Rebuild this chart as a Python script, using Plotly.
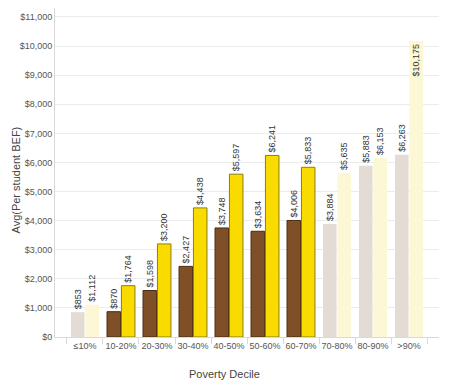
import plotly.graph_objects as go

categories = ["≤10%", "10-20%", "20-30%", "30-40%", "40-50%", "50-60%", "60-70%", "70-80%", "80-90%", ">90%"]
series_a = [853, 870, 1598, 2427, 3748, 3634, 4006, 3884, 5883, 6263]
series_b = [1112, 1764, 3200, 4438, 5597, 6241, 5833, 5635, 6153, 10175]
highlighted = [False, True, True, True, True, True, True, False, False, False]

a_colors = ["#7F4F28" if h else "#E3DCD4" for h in highlighted]
b_colors = ["#F9DB00" if h else "#FCF8D6" for h in highlighted]
a_line = ["#4A2C12" if h else "rgba(0,0,0,0)" for h in highlighted]
b_line = ["#8F7D10" if h else "rgba(0,0,0,0)" for h in highlighted]
lw = [1 if h else 0 for h in highlighted]

font = "Liberation Sans, Arial, sans-serif"
ymax = 11309

W, H = 450, 381
L, R, T, B = 47, 19, 0, 52
PW, PH = W - L - R, H - T - B

def positions(vals):
    return ["inside" if v > ymax * 0.86 else "outside" for v in vals]

fig = go.Figure()
fig.add_trace(go.Bar(
    x=categories, y=series_a, marker=dict(color=a_colors, line=dict(color=a_line, width=lw)),
    texttemplate="$%{y:,.0f}", textposition=positions(series_a), textangle=-90,
    constraintext="none",
    textfont=dict(size=9, color="#333333", family=font),
    insidetextfont=dict(size=9, color="#333333", family=font),
    cliponaxis=False, showlegend=False, hoverinfo="skip"))
fig.add_trace(go.Bar(
    x=categories, y=series_b, marker=dict(color=b_colors, line=dict(color=b_line, width=lw)),
    texttemplate="$%{y:,.0f}", textposition=positions(series_b), textangle=-90,
    insidetextanchor="end", constraintext="none",
    textfont=dict(size=9, color="#333333", family=font),
    insidetextfont=dict(size=9, color="#333333", family=font),
    cliponaxis=False, showlegend=False, hoverinfo="skip"))

fig.update_layout(
    width=W, height=H,
    margin=dict(l=L, r=R, t=T, b=B, autoexpand=False),
    paper_bgcolor="white", plot_bgcolor="white",
    barmode="group", bargap=0.2, bargroupgap=0.06,
    uniformtext=dict(minsize=9, mode="show"),
    font=dict(family=font, size=9, color="#555555"),
    xaxis=dict(
        range=[-0.833, 9.833], showgrid=False, showline=True, linecolor="#D9D9D9", linewidth=1,
        ticks="outside", tickson="boundaries", ticklen=6, tickcolor="#D9D9D9", tickangle=0,
        tickfont=dict(size=9, color="#555555"), fixedrange=True),
    yaxis=dict(
        range=[0, ymax], dtick=1000, tickprefix="$", tickformat=",.0f",
        showgrid=True, gridcolor="#EBEBEB", gridwidth=1,
        showline=True, linecolor="#D9D9D9", linewidth=1, zeroline=False,
        ticks="", tickfont=dict(size=9, color="#555555"), fixedrange=True),
    annotations=[
        dict(text="Avg(Per student BEF)", xref="paper", yref="paper",
             x=(7.5 - L) / PW, y=(PH - 172) / PH, textangle=-90, showarrow=False,
             xanchor="center", yanchor="middle", font=dict(size=11, color="#444444", family=font)),
        dict(text="Poverty Decile", xref="paper", yref="paper",
             x=(216 - L) / PW, y=(PH - 366) / PH, showarrow=False,
             xanchor="center", yanchor="middle", font=dict(size=11, color="#444444", family=font)),
    ],
)

fig.write_html("out.html")
